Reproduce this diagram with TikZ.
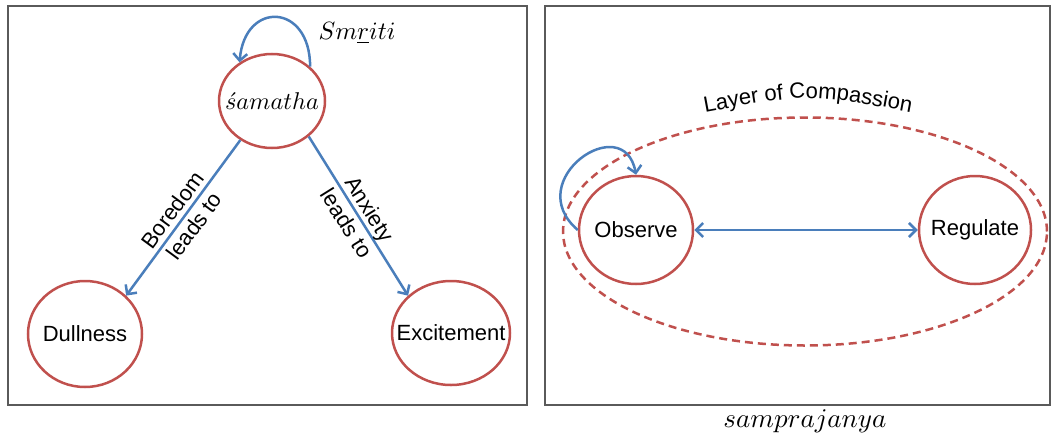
\documentclass[tikz,border=0pt]{standalone}
\usepackage{fontspec}
\setmainfont{Liberation Sans}
\usetikzlibrary{shapes.geometric,arrows.meta,decorations.text,calc}
\definecolor{cred}{RGB}{192,80,77}
\definecolor{cblue}{RGB}{74,126,187}
\definecolor{cgray}{RGB}{90,90,90}
\begin{document}
\begin{tikzpicture}[x=1pt,y=-1pt,
  state/.style={ellipse,draw=cred,line width=2.5pt,inner sep=0pt},
  statetext/.style={font=\fontsize{22}{24}\selectfont,inner sep=0pt},
  mathlbl/.style={font=\normalsize,scale=2.5,inner sep=0pt},
  link/.style={draw=cblue,line width=2.5pt,-{Straight Barb[length=7pt,width=14pt]}},
  panel/.style={draw=cgray,line width=1.3pt,inner sep=0pt},
  edgelbl/.style={font=\fontsize{22}{27}\selectfont,align=center,inner sep=0pt}]
\useasboundingbox (0,0) rectangle (1054,439);
\node[panel,minimum width=519pt,minimum height=399pt] (leftpanel) at (267.5,205.5) {};
\node[panel,minimum width=505pt,minimum height=399pt] (rightpanel) at (797.5,205.5) {};
% left panel nodes
\node[state,minimum width=106pt,minimum height=94pt] (sam) at (272,101) {};
\node[mathlbl,scale=0.97] (samtext) at (sam.center) {$\acute{s}amatha$};
\node[state,minimum width=114pt,minimum height=106pt] (dull) at (85,334) {};
\node[statetext] (dulltext) at (dull.center) {Dullness};
\node[state,minimum width=118pt,minimum height=104pt] (exc) at (451,333) {};
\node[statetext] (exctext) at (exc.center) {Excitement};
\node[mathlbl] (smriti) at (357,33) {$Sm\underline{r}iti$};
\draw[link] (sam.42) .. controls +(0,-64) and +(5,-62) .. (sam.130);
\draw[link] (sam.231) -- (dull.43) node[midway,edgelbl,sloped] {Boredom\\leads to};
\draw[link] (sam.316) -- (exc.139) node[midway,edgelbl,sloped] {Anxiety\\leads to};
% right panel
\node[ellipse,draw=cred,dashed,dash pattern=on 8pt off 5pt,line width=2.5pt,minimum width=484pt,minimum height=228pt] (layer) at (805,231.5) {};
\node[state,minimum width=114pt,minimum height=108pt] (obs) at (636,230) {};
\node[statetext] (obstext) at (obs.center) {Observe};
\node[state,minimum width=112pt,minimum height=108pt] (reg) at (975,230) {};
\node[statetext] (regtext) at (reg.center) {Regulate};
\draw[link,{Straight Barb[length=7pt,width=14pt]}-{Straight Barb[length=7pt,width=14pt]}] (obs) -- (reg);
\draw[link] (obs.180) .. controls +(-58,-50) and +(-12,-66) .. (obs.90);
\path[decorate,decoration={text along path,text align=center,
  text={|\fontsize{22}{22}\selectfont|Layer of Compassion}}]
  (696,114) .. controls (808,93) .. (920,114);
\node[mathlbl,scale=1.08] (sampr) at (805,421) {$samprajanya$};
\end{tikzpicture}
\end{document}
